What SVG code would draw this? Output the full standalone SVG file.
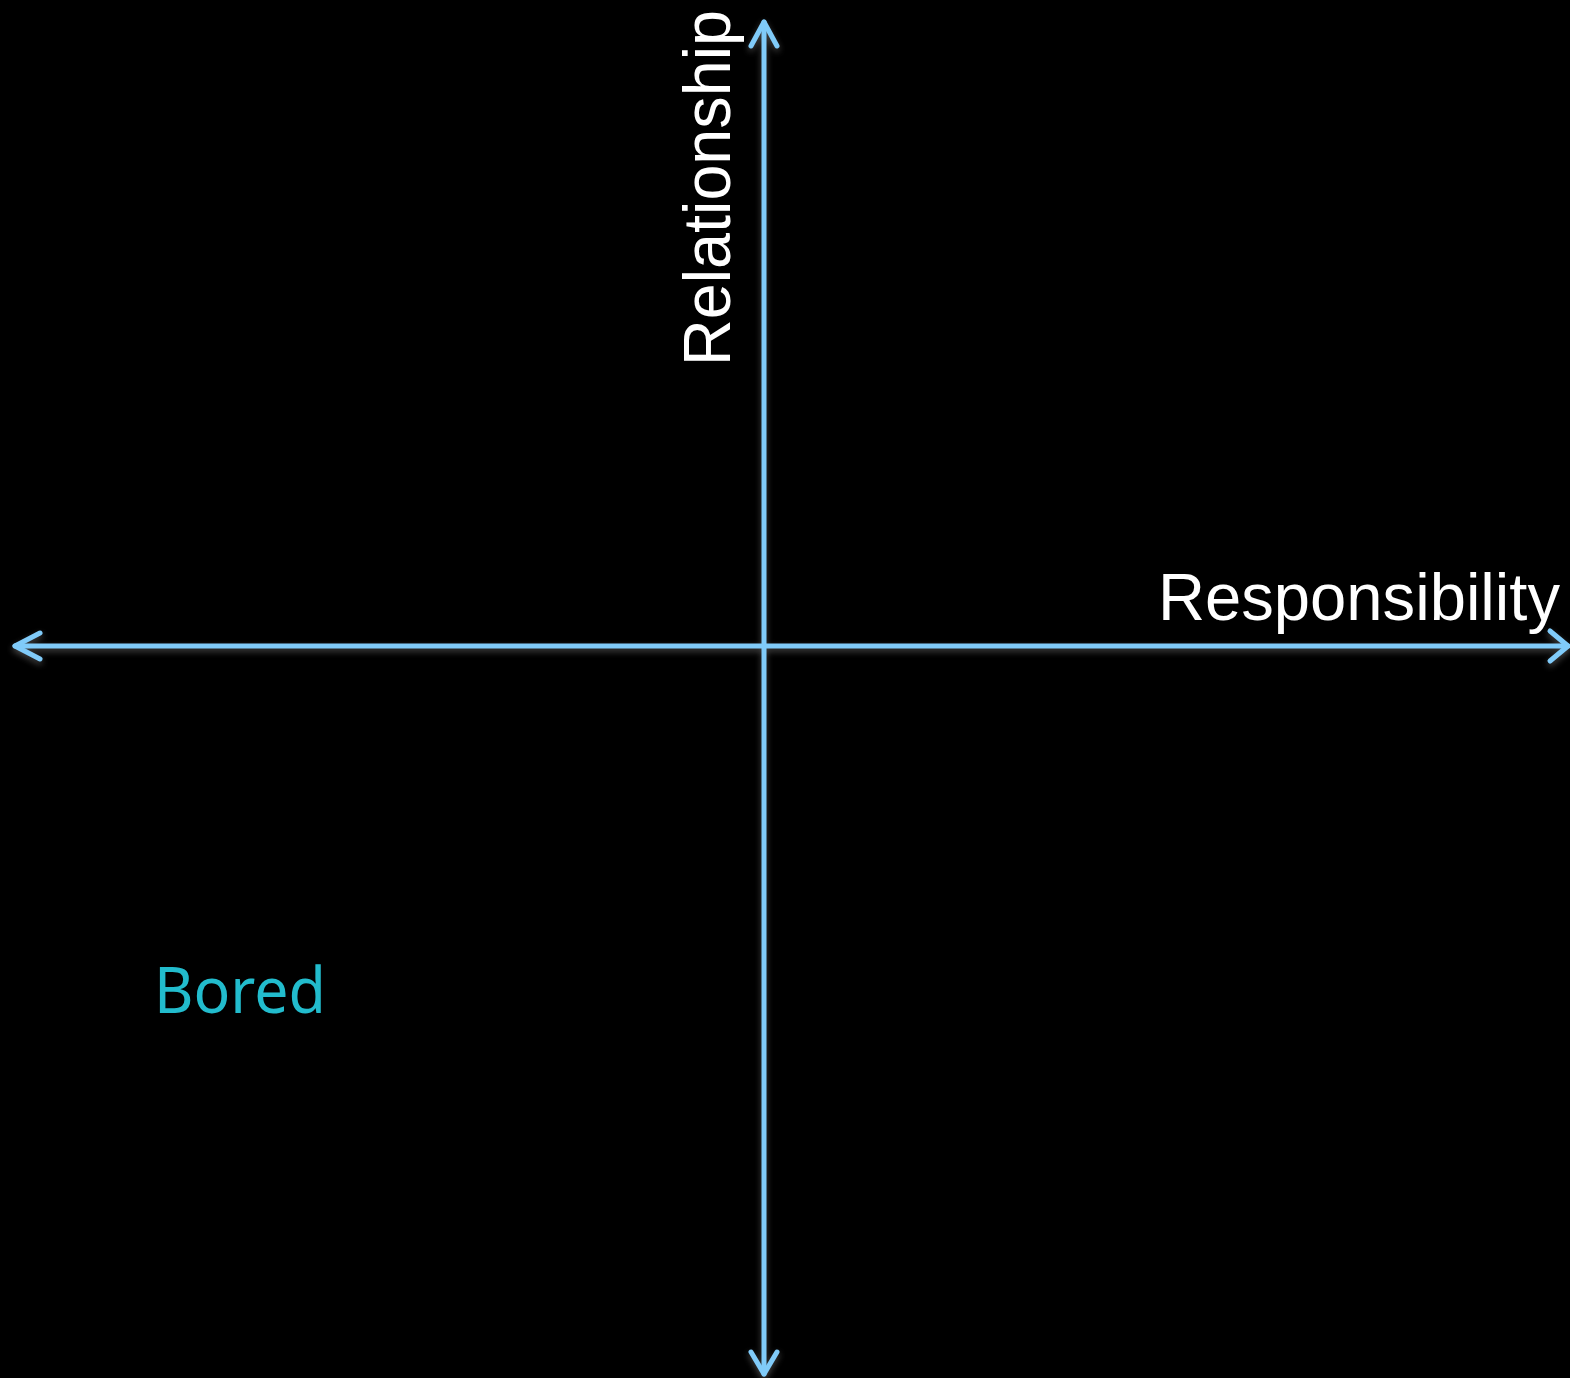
<svg xmlns="http://www.w3.org/2000/svg" width="1570" height="1378" viewBox="0 0 1570 1378">
<style>
.ax{stroke:#80cbf9;stroke-width:5;fill:none;stroke-linecap:round;stroke-linejoin:round}
.lbl{fill:#ffffff;font-family:"Liberation Sans",Arial,sans-serif;font-size:66px}
.q{fill:#22bccd;font-family:"Noto Sans","Open Sans",sans-serif;font-size:63px}
</style>
<defs>
<filter id="sh" x="-10%" y="-10%" width="120%" height="120%">
<feDropShadow dx="0" dy="3" stdDeviation="3" flood-color="#9a9a9a" flood-opacity="0.45"/>
</filter>
</defs>
<rect width="1570" height="1378" fill="#000"/>
<g id="connectors" filter="url(#sh)">
<path class="ax" d="M764 22 V1374"/>
<path class="ax" d="M751 46 L764 22 L777 46"/>
<path class="ax" d="M751 1352 L764 1374 L777 1352"/>
<path class="ax" d="M15 646 H1568"/>
<path class="ax" d="M40 633 L15 646 L40 659"/>
<path class="ax" d="M1550 631 L1568 646 L1550 661"/>
</g>
<g id="label-relationship">
<text class="lbl" transform="translate(730,366) rotate(-90)" textLength="356" lengthAdjust="spacingAndGlyphs">Relationship</text>
</g>
<g id="label-responsibility">
<text class="lbl" x="1158" y="620" textLength="402" lengthAdjust="spacingAndGlyphs">Responsibility</text>
</g>
<g id="bored">
<text class="q" x="154" y="1013" textLength="172" lengthAdjust="spacingAndGlyphs">Bored</text>
</g>
</svg>
